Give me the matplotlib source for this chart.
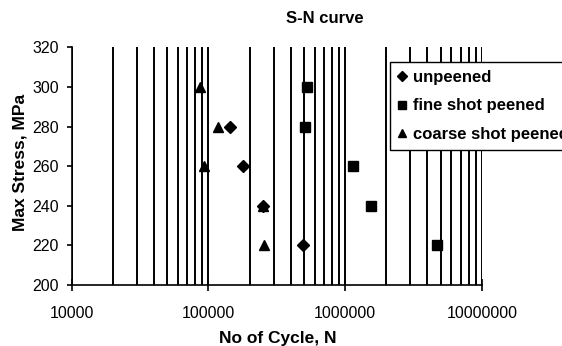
import matplotlib
matplotlib.use("Agg")
import matplotlib.pyplot as plt
from matplotlib.ticker import LogLocator, FixedLocator, FuncFormatter, NullFormatter

# ---- data ----
unpeened_N = [145000, 180000, 250000, 495000]
unpeened_S = [280, 260, 240, 220]

fine_N = [525000, 505000, 1140000, 1550000, 4680000]
fine_S = [300, 280, 260, 240, 220]

coarse_N = [87000, 117000, 93000, 250000, 255000]
coarse_S = [300, 280, 260, 240, 220]

series_labels = ["unpeened", "fine shot peened", "coarse shot peened"]
y_ticks = [200, 220, 240, 260, 280, 300, 320]
x_major = [10000, 100000, 1000000, 10000000]

plt.rcParams['font.family'] = ['Liberation Sans', 'DejaVu Sans']

W, H = 562, 346
fig = plt.figure(figsize=(W / 100, H / 100), dpi=100)
L, R, T, B = 71.7, 481.8, 47.3, 285.0
ax = fig.add_axes([L / W, 1 - B / H, (R - L) / W, (B - T) / H])

ax.set_xscale('log')
ax.set_xlim(x_major[0], x_major[-1])
ax.set_ylim(y_ticks[0], y_ticks[-1])

ax.xaxis.set_major_locator(FixedLocator(x_major))
ax.xaxis.set_minor_locator(LogLocator(base=10, subs=[2, 3, 4, 5, 6, 7, 8, 9]))
ax.xaxis.set_major_formatter(FuncFormatter(lambda v, p: f"{int(round(v))}"))
ax.xaxis.set_minor_formatter(NullFormatter())
ax.set_yticks(y_ticks)

ax.grid(True, axis='x', which='both', color='black', linewidth=1.4, zorder=1)
ax.set_axisbelow(True)

for s in ['top', 'right']:
    ax.spines[s].set_visible(False)
for s in ['left', 'bottom']:
    ax.spines[s].set_color('black')
    ax.spines[s].set_linewidth(1.2)

ax.tick_params(axis='x', which='major', direction='inout', length=8, width=1.2,
               pad=11, labelsize=11.5, colors='black')
ax.tick_params(axis='x', which='minor', length=0)
ax.tick_params(axis='y', which='major', direction='out', length=3.6, width=1.2,
               pad=5.5, labelsize=11.5, colors='black')

ax.plot(unpeened_N, unpeened_S, linestyle='none', marker='D', markersize=6.5,
        color='black', label=series_labels[0], zorder=3)
ax.plot(fine_N, fine_S, linestyle='none', marker='s', markersize=7,
        color='black', label=series_labels[1], zorder=3)
ax.plot(coarse_N, coarse_S, linestyle='none', marker='^', markersize=7.5,
        color='black', label=series_labels[2], zorder=3)

ax.set_xlabel("No of Cycle, N", fontsize=12.5, fontweight='bold')
ax.xaxis.label.set_va('center')
ax.xaxis.set_label_coords((278 - L) / (R - L), (B - 338) / (B - T))
ax.set_ylabel("Max Stress, MPa", fontsize=12.5, fontweight='bold')
ax.yaxis.label.set_va('center')
ax.yaxis.set_label_coords((20 - L) / (R - L), (B - 162.7) / (B - T))

fig.text(325 / W, 1 - 18.3 / H, "S-N curve", ha='center', va='center',
         fontsize=12, fontweight='bold')

leg = ax.legend(loc='upper left', bbox_to_anchor=(390 / W, 1 - 62.3 / H),
                bbox_transform=fig.transFigure, frameon=True, fancybox=False,
                shadow=False, markerscale=0.8, handlelength=0.55,
                handletextpad=0.4, labelspacing=0.82, borderpad=0.45,
                borderaxespad=0, prop={'size': 12, 'weight': 'bold'})
leg.get_frame().set_edgecolor('black')
leg.get_frame().set_linewidth(1.0)
leg.get_frame().set_alpha(1)
leg.set_zorder(5)

fig.savefig("out.png", dpi=100)
